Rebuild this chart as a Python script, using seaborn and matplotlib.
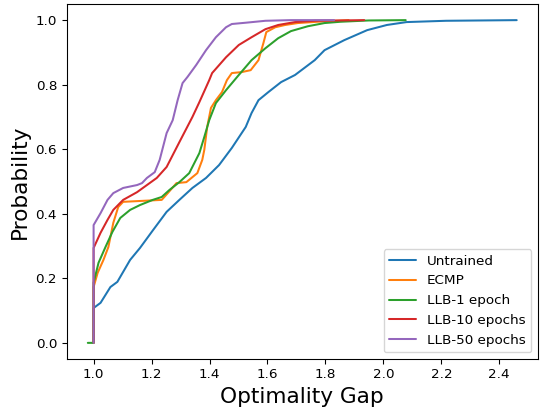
import matplotlib
matplotlib.use("Agg")
import matplotlib.pyplot as plt
import seaborn as sns
import pandas as pd

series_names = ["Untrained", "ECMP", "LLB-1 epoch", "LLB-10 epochs", "LLB-50 epochs"]
colors = ["#1f77b4", "#ff7f0e", "#2ca02c", "#d62728", "#9467bd"]

untrained_x = [1.0, 1.0, 1.024, 1.058, 1.082, 1.126, 1.160, 1.204, 1.252, 1.296, 1.341,
               1.388, 1.433, 1.477, 1.525, 1.545, 1.569, 1.603, 1.647, 1.695, 1.763,
               1.797, 1.865, 1.944, 2.012, 2.080, 2.216, 2.46]
untrained_y = [0.0, 0.108, 0.124, 0.173, 0.189, 0.257, 0.294, 0.348, 0.406, 0.443, 0.480,
               0.511, 0.551, 0.604, 0.669, 0.712, 0.752, 0.777, 0.808, 0.830, 0.876,
               0.907, 0.938, 0.969, 0.985, 0.994, 0.998, 1.0]

ecmp_x = [1.0, 1.0, 1.014, 1.034, 1.051, 1.068, 1.085, 1.102, 1.235, 1.256, 1.286, 1.320,
          1.358, 1.375, 1.382, 1.392, 1.405, 1.422, 1.443, 1.460, 1.477, 1.511, 1.542,
          1.569, 1.586, 1.596, 1.627, 1.661, 1.705, 1.773, 1.842, 1.88]
ecmp_y = [0.0, 0.173, 0.217, 0.257, 0.297, 0.372, 0.421, 0.437, 0.443, 0.464, 0.495, 0.498,
          0.526, 0.567, 0.598, 0.669, 0.728, 0.752, 0.777, 0.814, 0.836, 0.839, 0.845,
          0.876, 0.929, 0.963, 0.978, 0.985, 0.991, 0.995, 0.998, 1.0]

llb1_x = [0.98, 1.0, 1.0, 1.017, 1.041, 1.065, 1.092, 1.126, 1.160, 1.204, 1.235, 1.262,
          1.296, 1.330, 1.365, 1.382, 1.399, 1.422, 1.457, 1.501, 1.545, 1.593, 1.637,
          1.681, 1.739, 1.797, 1.852, 1.95, 2.077]
llb1_y = [0.0, 0.0, 0.186, 0.248, 0.297, 0.344, 0.387, 0.412, 0.427, 0.443, 0.452, 0.474,
          0.498, 0.526, 0.588, 0.638, 0.690, 0.743, 0.783, 0.830, 0.876, 0.913, 0.944,
          0.966, 0.981, 0.991, 0.995, 0.999, 1.0]

llb10_x = [1.0, 1.0, 1.024, 1.048, 1.068, 1.102, 1.150, 1.184, 1.218, 1.252, 1.296, 1.341,
           1.365, 1.399, 1.409, 1.457, 1.501, 1.545, 1.593, 1.637, 1.695, 1.763, 1.934]
llb10_y = [0.0, 0.294, 0.341, 0.381, 0.412, 0.443, 0.467, 0.489, 0.511, 0.545, 0.622, 0.700,
           0.746, 0.814, 0.836, 0.885, 0.923, 0.947, 0.972, 0.985, 0.994, 0.998, 1.0]

llb50_x = [1.0, 1.0, 1.024, 1.048, 1.068, 1.102, 1.150, 1.167, 1.184, 1.211, 1.228, 1.252,
           1.273, 1.290, 1.307, 1.324, 1.354, 1.388, 1.422, 1.457, 1.477, 1.525, 1.593,
           1.681, 1.83]
llb50_y = [0.0, 0.365, 0.402, 0.443, 0.464, 0.480, 0.489, 0.495, 0.511, 0.529, 0.567, 0.650,
           0.690, 0.752, 0.805, 0.824, 0.861, 0.907, 0.947, 0.978, 0.988, 0.992, 0.998,
           1.0, 1.0]

all_x = [untrained_x, ecmp_x, llb1_x, llb10_x, llb50_x]
all_y = [untrained_y, ecmp_y, llb1_y, llb10_y, llb50_y]

frames = []
for name, xs, ys in zip(series_names, all_x, all_y):
    frames.append(pd.DataFrame({"gap": xs, "prob": ys, "method": name}))
df = pd.concat(frames, ignore_index=True)

sns.set_style("ticks")
plt.rcParams["font.family"] = ["DejaVu Sans"]
plt.rcParams["axes.edgecolor"] = "black"
plt.rcParams["text.color"] = "black"
plt.rcParams["axes.labelcolor"] = "black"
plt.rcParams["xtick.color"] = "black"
plt.rcParams["ytick.color"] = "black"

DPI = 97.5
fig = plt.figure(figsize=(540 / DPI, 408 / DPI), dpi=DPI)
ax = fig.add_axes([66.5 / 540, 1 - 359 / 408, (538 - 66.5) / 540, (359 - 4) / 408])

sns.lineplot(data=df, x="gap", y="prob", hue="method", hue_order=series_names,
             palette=colors, sort=False, estimator=None, units="method",
             linewidth=1.5, ax=ax)

ax.set_xlabel("Optimality Gap", fontsize=16)
ax.set_ylabel("Probability", fontsize=16)
ax.tick_params(labelsize=10, direction="out", length=3.5, width=0.8, color="black")
ax.set_xticks([1.0, 1.2, 1.4, 1.6, 1.8, 2.0, 2.2, 2.4])
ax.set_yticks([0.0, 0.2, 0.4, 0.6, 0.8, 1.0])
ax.set_xlim(0.9065, 2.5335)
ax.set_ylim(-0.05, 1.05)
for s in ax.spines.values():
    s.set_visible(True)
    s.set_color("black")
    s.set_linewidth(0.8)

handles, labels = ax.get_legend_handles_labels()
ax.legend(handles, labels, loc="lower right", fontsize=10, title=None)

fig.savefig("out.png", dpi=DPI)
